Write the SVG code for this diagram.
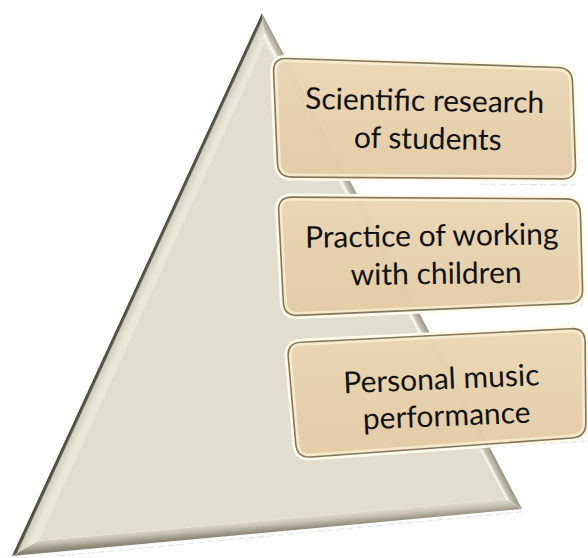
<svg xmlns="http://www.w3.org/2000/svg" width="588" height="558" viewBox="0 0 588 558">
  <defs>
    <linearGradient id="gLeft" gradientUnits="userSpaceOnUse" x1="139" y1="280" x2="149" y2="284.6">
      <stop offset="0" stop-color="#45473b"/>
      <stop offset="0.24" stop-color="#5c5d50"/>
      <stop offset="0.34" stop-color="#d2cebc"/>
      <stop offset="1" stop-color="#ebe7d8"/>
    </linearGradient>
    <linearGradient id="gBottom" gradientUnits="userSpaceOnUse" x1="270" y1="520" x2="271" y2="532">
      <stop offset="0" stop-color="#dcd7c6"/>
      <stop offset="0.35" stop-color="#c9c4b3"/>
      <stop offset="1" stop-color="#8a8676"/>
    </linearGradient>
    <linearGradient id="gRight" gradientUnits="userSpaceOnUse" x1="391.5" y1="260" x2="382.5" y2="264.7">
      <stop offset="0" stop-color="#9c9888"/>
      <stop offset="0.55" stop-color="#c6c2b1"/>
      <stop offset="0.82" stop-color="#fbfaf3"/>
      <stop offset="1" stop-color="#ece9dc"/>
    </linearGradient>
    <linearGradient id="gBox" x1="0" y1="0" x2="0" y2="1">
      <stop offset="0" stop-color="#ead6b4"/>
      <stop offset="1" stop-color="#e3cba4"/>
    </linearGradient>
    <path id="p1" d="M 287,58.5 L 558,67.5 Q 572,68 572.5,82 L 575.5,165 Q 576,179 562,178.9 L 292,177.1 Q 278,177 277.4,163 L 273.6,72 Q 273,58 287,58.5 Z"/>
    <path id="p2" d="M 292,197.1 L 566,198.9 Q 580,199 580.4,213 L 582.6,289 Q 583,303 569,303.6 L 298,315.4 Q 284,316 283.3,302 L 278.7,211 Q 278,197 292,197.1 Z"/>
    <path id="p3" d="M 301,342.3 L 571,328.7 Q 585,328 585.1,342 L 585.9,423 Q 586,437 572,438 L 311,457 Q 297,458 295.8,444 L 288.2,357 Q 287,343 301,342.3 Z"/>
    <clipPath id="c1"><use href="#p1"/></clipPath>
    <clipPath id="c2"><use href="#p2"/></clipPath>
    <clipPath id="c3"><use href="#p3"/></clipPath>
  </defs>
  <style>
    .glow { fill: none; stroke: #fffbea; stroke-width: 7; stroke-linejoin: round; }
    .body { fill: url(#gBox); fill-opacity: 0.96; }
    .hi { fill: none; stroke: #fbf0d6; stroke-width: 7; opacity: 0.75; }
    .edge { fill: none; stroke: #84755a; stroke-width: 1.6; }
    .lbl { font-family: Lato, "Liberation Sans", sans-serif; font-size: 30px; fill: #111111; text-anchor: middle; }
    .shadowline { fill: none; stroke: #cccccc; stroke-width: 0.8; stroke-dasharray: 7 3; opacity: 0.7; }
  </style>

  <g id="pyramid">
    <line class="shadowline" x1="58" y1="556" x2="522" y2="512"/>
    <polygon points="262,13 12,556 38,541 265,42" fill="url(#gLeft)"/>
    <polygon points="12,556 522,509 506,499 38,541" fill="url(#gBottom)"/>
    <polygon points="262,13 522,509 506,499 265,42" fill="url(#gRight)"/>
    <polygon points="265,42 38,541 506,499" fill="#e2decd"/>
  </g>

  <g id="connectors"/>

  <g id="box1">
    <line class="shadowline" x1="480" y1="184" x2="576" y2="185"/>
    <use href="#p1" class="glow"/>
    <use href="#p1" class="body"/>
    <use href="#p1" class="hi" clip-path="url(#c1)"/>
    <use href="#p1" class="edge"/>
    <text class="lbl" transform="rotate(1 428 130)">
      <tspan x="428" y="111">Scientific research</tspan>
      <tspan x="428" y="149">of students</tspan>
    </text>
  </g>

  <g id="box2">
    <line class="shadowline" x1="480" y1="309" x2="583" y2="305"/>
    <use href="#p2" class="glow"/>
    <use href="#p2" class="body"/>
    <use href="#p2" class="hi" clip-path="url(#c2)"/>
    <use href="#p2" class="edge"/>
    <text class="lbl" transform="rotate(-0.8 436 265)">
      <tspan x="436" y="246">Practice of working</tspan>
      <tspan x="436" y="284">with children</tspan>
    </text>
  </g>

  <g id="box3">
    <line class="shadowline" x1="480" y1="448" x2="587" y2="441"/>
    <use href="#p3" class="glow"/>
    <use href="#p3" class="body"/>
    <use href="#p3" class="hi" clip-path="url(#c3)"/>
    <use href="#p3" class="edge"/>
    <text class="lbl" transform="rotate(-2.4 446 400)">
      <tspan x="446" y="389">Personal music</tspan>
      <tspan x="446" y="426">performance</tspan>
    </text>
  </g>
</svg>
